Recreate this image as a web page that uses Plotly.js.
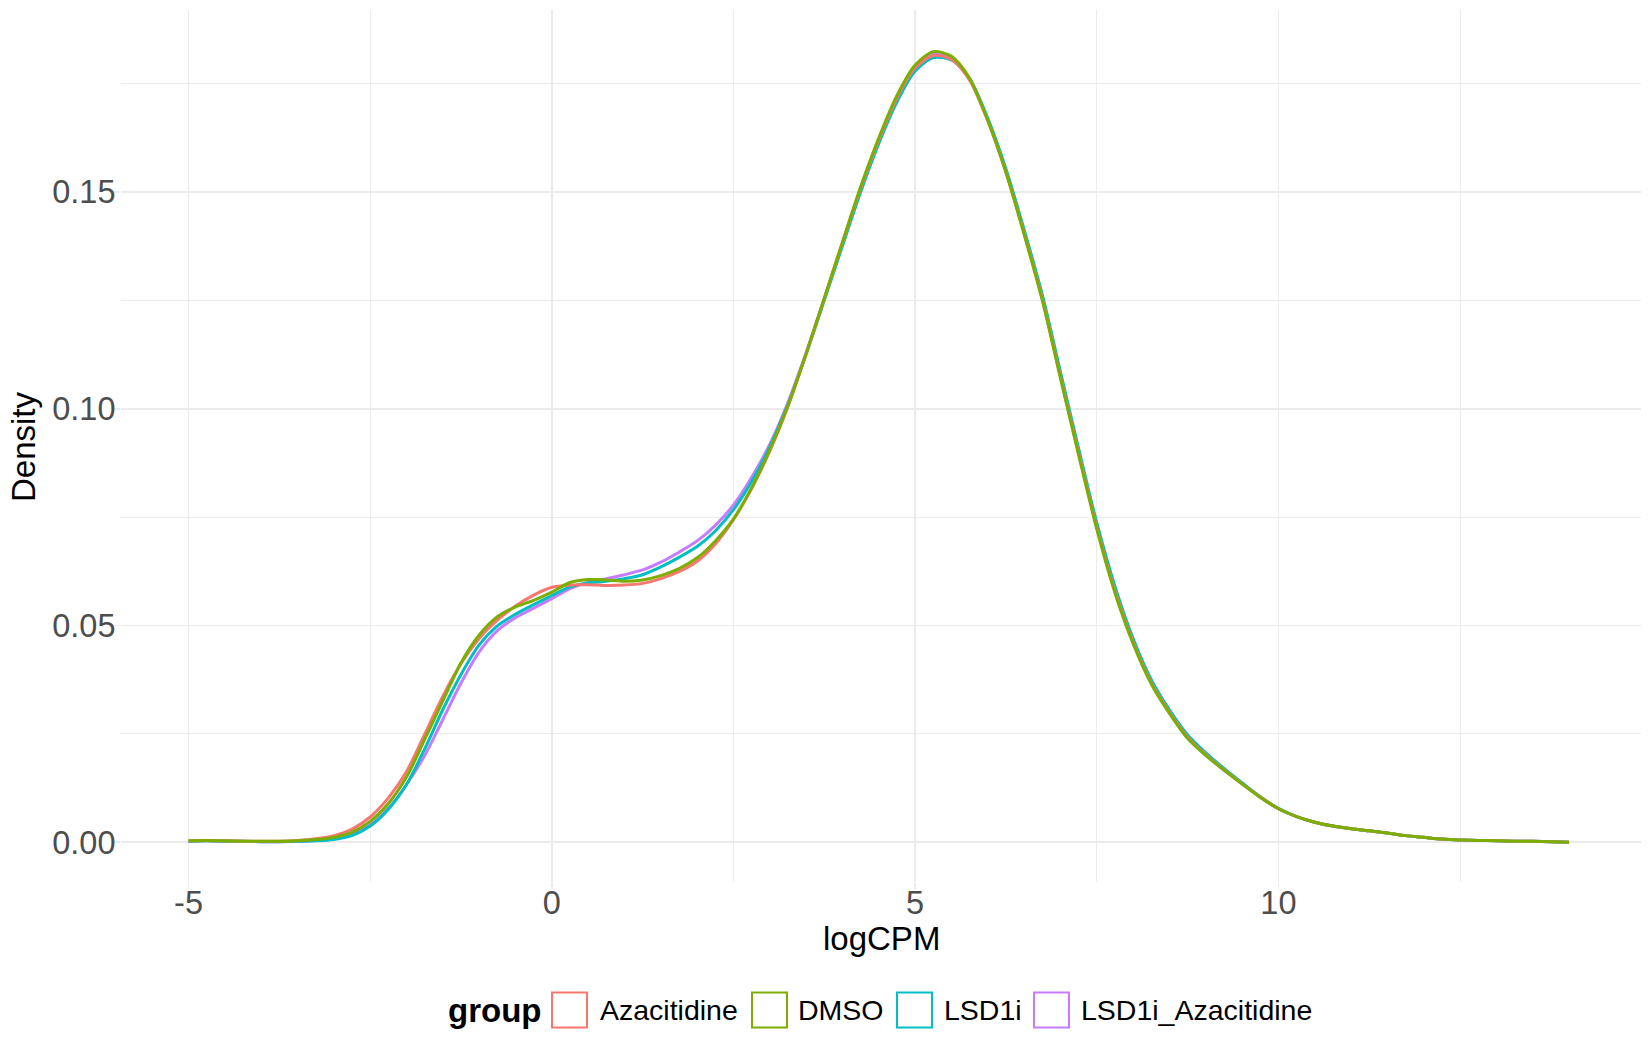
<!DOCTYPE html>
<html>
<head>
<meta charset="utf-8">
<script src="https://cdn.plot.ly/plotly-3.0.1.min.js"></script>
<style>
  html, body { margin: 0; padding: 0; background: #ffffff; }
  #chart { width: 1650px; height: 1050px; }
</style>
</head>
<body>
<div id="chart"></div>
<script>
// ---- data ----
var groups = ["Azacitidine", "DMSO", "LSD1i", "LSD1i_Azacitidine"];
var groupColors = ["#F8766D", "#7CAE00", "#00BFC4", "#C77CFF"];

var logCPM = [-5,-4.75,-4.5,-4.25,-4,-3.75,-3.5,-3.25,-3,-2.75,-2.5,-2.25,-2,-1.75,-1.5,-1.25,-1,-0.75,-0.5,-0.25,
  0,0.25,0.5,0.75,1,1.25,1.5,1.75,2,2.25,2.5,2.75,3,3.25,3.5,3.75,4,4.25,4.5,4.75,
  5,5.25,5.5,5.75,6,6.25,6.5,6.75,7,7.25,7.5,7.75,8,8.25,8.5,8.75,9,9.25,9.5,9.75,
  10,10.25,10.5,10.75,11,11.25,11.5,11.75,12,12.25,12.5,12.75,13,13.25,13.5,13.75,14];

var densAzacitidine = [0.0003,0.0004,0.0003,0.0002,0.0002,0.0002,0.0004,0.0008,0.0015,0.0030,0.0058,0.0102,0.0163,0.0249,0.0337,0.0412,0.0470,0.0512,0.0545,0.0570,
  0.0588,0.0593,0.0594,0.0592,0.0593,0.0597,0.0608,0.0624,0.0648,0.0688,0.0744,0.0816,0.0903,0.1006,0.1127,0.1254,0.1383,0.1508,0.1620,0.1717,
  0.1786,0.1815,0.1806,0.1758,0.1664,0.1546,0.1405,0.1254,0.1075,0.0898,0.0727,0.0580,0.0462,0.0368,0.0300,0.0242,0.0202,0.0167,0.0135,0.0104,
  0.0077,0.0059,0.0046,0.0037,0.0031,0.0026,0.0021,0.0015,0.0011,0.0007,0.0005,0.0004,0.0003,0.0002,0.0002,0.0001,0.0000];

var densDMSO = [0.0003,0.0004,0.0003,0.0002,0.0002,0.0002,0.0003,0.0006,0.0011,0.0023,0.0048,0.0089,0.0150,0.0237,0.0326,0.0414,0.0478,0.0520,0.0543,0.0558,
  0.0577,0.0599,0.0606,0.0605,0.0602,0.0605,0.0615,0.0631,0.0656,0.0695,0.0746,0.0818,0.0905,0.1007,0.1127,0.1255,0.1385,0.1512,0.1625,0.1723,
  0.1793,0.1824,0.1813,0.1762,0.1665,0.1545,0.1402,0.1250,0.1070,0.0893,0.0722,0.0575,0.0458,0.0365,0.0297,0.0239,0.0200,0.0166,0.0134,0.0103,
  0.0077,0.0059,0.0046,0.0037,0.0031,0.0026,0.0021,0.0015,0.0011,0.0007,0.0005,0.0004,0.0003,0.0002,0.0002,0.0001,0.0000];

var densLSD1i = [0.0002,0.0003,0.0002,0.0002,0.0001,0.0001,0.0002,0.0003,0.0006,0.0015,0.0037,0.0076,0.0133,0.0215,0.0306,0.0387,0.0455,0.0499,0.0526,0.0548,
  0.0569,0.0589,0.0598,0.0602,0.0608,0.0617,0.0635,0.0657,0.0682,0.0718,0.0767,0.0832,0.0912,0.1010,0.1126,0.1250,0.1376,0.1500,0.1612,0.1708,
  0.1779,0.1810,0.1805,0.1762,0.1670,0.1553,0.1413,0.1263,0.1085,0.0908,0.0737,0.0590,0.0470,0.0375,0.0305,0.0247,0.0206,0.0170,0.0137,0.0105,
  0.0078,0.0059,0.0046,0.0037,0.0031,0.0026,0.0021,0.0015,0.0011,0.0007,0.0005,0.0004,0.0003,0.0002,0.0002,0.0001,0.0000];

var densLSD1iAzacitidine = [0.0002,0.0003,0.0002,0.0002,0.0001,0.0001,0.0002,0.0004,0.0008,0.0018,0.0040,0.0078,0.0133,0.0200,0.0283,0.0367,0.0439,0.0488,0.0518,0.0540,
  0.0562,0.0585,0.0600,0.0608,0.0617,0.0628,0.0646,0.0669,0.0695,0.0731,0.0778,0.0842,0.0918,0.1015,0.1130,0.1255,0.1382,0.1507,0.1619,0.1716,
  0.1788,0.1819,0.1809,0.1760,0.1666,0.1548,0.1406,0.1255,0.1075,0.0898,0.0727,0.0580,0.0462,0.0368,0.0300,0.0242,0.0202,0.0167,0.0135,0.0104,
  0.0077,0.0059,0.0046,0.0037,0.0031,0.0026,0.0021,0.0015,0.0011,0.0007,0.0005,0.0004,0.0003,0.0002,0.0002,0.0001,0.0000];

var xTickVals = [-5, 0, 5, 10];
var xTickText = ["-5", "0", "5", "10"];
var xMinorVals = [-2.5, 2.5, 7.5, 12.5];
var yTickVals = [0, 0.05, 0.10, 0.15];
var yTickText = ["0.00", "0.05", "0.10", "0.15"];
var yMinorVals = [0.025, 0.075, 0.125, 0.175];
var xTitle = "logCPM";
var yTitle = "Density";
var legendTitle = "group";

var seriesValues = [densAzacitidine, densDMSO, densLSD1i, densLSD1iAzacitidine];

// ---- figure ----
var FONT = "Liberation Sans, Arial, Helvetica, sans-serif";
var W = 1650, H = 1050;
var M = {l: 121, r: 9, t: 10, b: 168};
var PW = W - M.l - M.r, PH = H - M.t - M.b;
function px2x(px) { return (px - M.l) / PW; }
function px2y(py) { return (H - M.b - py) / PH; }

// draw order: purple, cyan, red, green (green on top, as in the reference)
var order = [3, 2, 0, 1];
var traces = order.map(function (i) {
  return {
    type: "scatter",
    mode: "lines",
    name: groups[i],
    x: logCPM,
    y: seriesValues[i],
    line: {color: groupColors[i], width: 3, shape: "spline", smoothing: 0.8},
    hoverinfo: "skip",
    showlegend: false
  };
});

var shapes = [];
var annotations = [];

// axis titles (placed as in the ggplot output)
annotations.push({
  xref: "paper", yref: "paper", x: px2x(881), y: px2y(938),
  xanchor: "center", yanchor: "middle", showarrow: false,
  text: xTitle, font: {family: FONT, size: 33, color: "#000000"}
});
annotations.push({
  xref: "paper", yref: "paper", x: px2x(23), y: px2y(446),
  xanchor: "center", yanchor: "middle", showarrow: false, textangle: -90,
  text: yTitle, font: {family: FONT, size: 33, color: "#000000"}
});

// manual ggplot-style legend (boxed keys) below the panel
var legendY = 1010;        // centre line of legend, px
var keySize = 35;
var keyLeft = [552, 752, 897, 1034];
var textLeft = [598, 796, 942, 1079];
annotations.push({
  xref: "paper", yref: "paper", x: px2x(446), y: px2y(legendY),
  xanchor: "left", yanchor: "middle", showarrow: false,
  text: "<b>" + legendTitle + "</b>", font: {family: FONT, size: 33, color: "#000000"}
});
for (var k = 0; k < groups.length; k++) {
  shapes.push({
    type: "rect", xref: "paper", yref: "paper",
    x0: px2x(keyLeft[k]), x1: px2x(keyLeft[k] + keySize),
    y0: px2y(legendY - keySize / 2), y1: px2y(legendY + keySize / 2),
    line: {color: groupColors[k], width: 2}, fillcolor: "#FFFFFF"
  });
  annotations.push({
    xref: "paper", yref: "paper", x: px2x(textLeft[k]), y: px2y(legendY),
    xanchor: "left", yanchor: "middle", showarrow: false,
    text: groups[k], font: {family: FONT, size: 28.5, color: "#000000"}
  });
}

var gridCol = "#EBEBEB";
var layout = {
  width: W, height: H,
  margin: M,
  paper_bgcolor: "#FFFFFF",
  plot_bgcolor: "#FFFFFF",
  font: {family: FONT, color: "#000000"},
  showlegend: false,
  xaxis: {
    range: [-5.93, 14.99],
    tickmode: "array", tickvals: xTickVals, ticktext: xTickText,
    showgrid: true, gridcolor: gridCol, gridwidth: 1.6,
    zeroline: false, showline: false,
    ticks: "outside", ticklen: 6, tickwidth: 1.6, tickcolor: gridCol,
    ticklabelstandoff: -14,
    tickfont: {family: FONT, size: 32.5, color: "#4D4D4D"},
    minor: {tickmode: "array", tickvals: xMinorVals, showgrid: true, gridcolor: gridCol, gridwidth: 0.9, ticks: ""},
    automargin: false
  },
  yaxis: {
    range: [-0.0092, 0.1920],
    tickmode: "array", tickvals: yTickVals, ticktext: yTickText,
    showgrid: true, gridcolor: gridCol, gridwidth: 1.6,
    zeroline: false, showline: false,
    ticks: "outside", ticklen: 6, tickwidth: 1.6, tickcolor: gridCol,
    ticklabelstandoff: -8,
    tickfont: {family: FONT, size: 32.5, color: "#4D4D4D"},
    minor: {tickmode: "array", tickvals: yMinorVals, showgrid: true, gridcolor: gridCol, gridwidth: 0.9, ticks: ""},
    automargin: false
  },
  shapes: shapes,
  annotations: annotations
};

Plotly.newPlot("chart", traces, layout, {displayModeBar: false, staticPlot: true});
</script>
</body>
</html>
